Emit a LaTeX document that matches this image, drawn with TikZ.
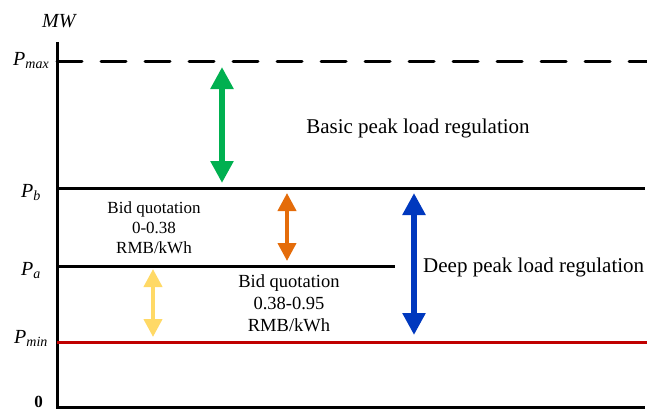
\documentclass[tikz,border=0pt]{standalone}
\usepackage{fontspec}
\setmainfont{Liberation Serif}
\usetikzlibrary{arrows.meta,positioning}

\definecolor{regred}{RGB}{192,0,0}
\definecolor{reggreen}{RGB}{0,176,80}
\definecolor{regorange}{RGB}{228,108,10}
\definecolor{regyellow}{RGB}{255,217,102}
\definecolor{regblue}{RGB}{0,56,190}

\begin{document}
\begin{tikzpicture}[x=1pt, y=-1pt,
axis/.style={line width=3pt, line join=miter},
level/.style={line width=3pt},
bigtip/.style={line width=6pt, {Triangle[width=22pt,length=22pt]}-{Triangle[width=22pt,length=22pt]}},
smalltip/.style={line width=4pt, {Triangle[width=18pt,length=18pt]}-{Triangle[width=18pt,length=18pt]}},
txt/.style={font=\fontsize{21}{24}\selectfont, inner sep=0pt},
bid/.style={font=\fontsize{#1}{20}\selectfont, align=center, inner sep=0pt},
plab/.style={font=\fontsize{20}{22}\selectfont\itshape, anchor=base west, inner sep=0pt}]
\def\xaxis{57}
\def\xend{647}
\useasboundingbox (0,0) rectangle (647,412);

% axes
\coordinate (top) at (\xaxis,42);
\coordinate (O) at (\xaxis,407);
\coordinate (Oend) at (645,407);
\draw[axis] (top) -- (O) -- (Oend);

% power levels
\coordinate (max0) at (\xaxis,61);
\coordinate (max1) at (\xend,61);
\coordinate (b0) at (\xaxis,188);
\coordinate (b1) at (645,188);
\coordinate (a0) at (\xaxis,266);
\coordinate (a1) at (395,266);
\coordinate (min0) at (\xaxis,342);
\coordinate (min1) at (\xend,342);
\draw[level, line cap=round, dash pattern=on 25pt off 19pt] (max0) -- (max1);
\draw[level] (b0) -- (b1);
\draw[level] (a0) -- (a1);
\draw[level, regred] (min0) -- (min1);

% labels on the axis
\node[plab] (MW) at (42,28) {MW};
\node[plab] (Pmax) at (13,65) {P\textsubscript{max}};
\node[plab] (Pb) at (21,197) {P\textsubscript{b}};
\node[plab] (Pa) at (21,275) {P\textsubscript{a}};
\node[plab] (Pmin) at (14,343) {P\textsubscript{min}};
\node[font=\fontsize{17}{18}\selectfont\bfseries, inner sep=0pt, anchor=base] (zero) at (38.5,407) {0};

% regulation ranges
\coordinate (g0) at (222,67);
\coordinate (g1) at (222,183);
\coordinate (o0) at (287,193);
\coordinate (o1) at (287,261);
\coordinate (y0) at (153,269);
\coordinate (y1) at (153,337);
\coordinate (bl0) at (414,193);
\coordinate (bl1) at (414,335);
\draw[bigtip, reggreen] (g0) -- (g1);
\draw[smalltip, regorange] (o0) -- (o1);
\draw[smalltip, regyellow] (y0) -- (y1);
\draw[bigtip, regblue] (bl0) -- (bl1);

\node[txt, anchor=base] (basic) at (418,133) {Basic peak load regulation};
\node[bid=17] (bid1) at (154,228) {Bid quotation\\0-0.38\\RMB/kWh};
\node[bid=18.5, font=\fontsize{18.5}{22}\selectfont] (bid2) at (289,303.5) {Bid quotation\\0.38-0.95\\RMB/kWh};
\node[txt, anchor=base west] (deep) at (423,272) {Deep peak load regulation};
\end{tikzpicture}
\end{document}
